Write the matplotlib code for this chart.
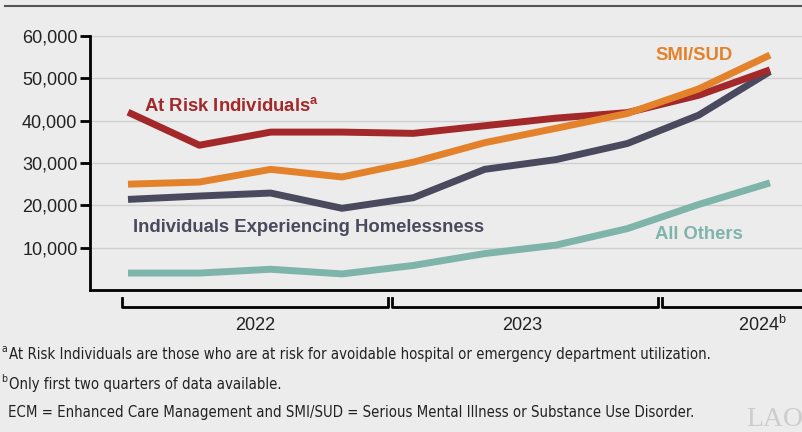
import numpy as np
import matplotlib
matplotlib.use("Agg")
import matplotlib.pyplot as plt
from matplotlib.lines import Line2D
from matplotlib.transforms import blended_transform_factory

# ------------------------------------------------------------
# Data (quarterly ECM enrollment)
# ------------------------------------------------------------
quarters = np.arange(10)  # 2022 Q1 ... 2024 Q2

at_risk = [42000, 34200, 37300, 37300, 37000, 38800, 40600, 41900, 46000, 52000]
smi_sud = [25000, 25500, 28500, 26700, 30200, 34800, 38200, 41700, 47500, 55500]
homeless = [21400, 22200, 22900, 19300, 21800, 28500, 30800, 34600, 41300, 51600]
all_others = [4000, 4000, 4900, 3800, 5800, 8600, 10600, 14500, 20200, 25300]

yticks = [10000, 20000, 30000, 40000, 50000, 60000]
years = ["2022", "2023", "2024"]
year_spans = [(-0.085, 3.645), (3.70, 7.43), (7.49, 9.60)]
year_centers = [1.78, 5.52, 8.90]

red = "#A3282A"
orange = "#E3822A"
navy = "#4A4A5F"
teal = "#7FB4AA"
bg = "#ECECEC"

plt.rcParams["font.family"] = ["Liberation Sans", "DejaVu Sans"]

fig = plt.figure(figsize=(8.02, 4.32), dpi=100, facecolor=bg)
W, H = 802, 432
ax = fig.add_axes([90 / W, (H - 290) / H, (W - 90) / W, (290 - 36) / H])
ax.set_facecolor(bg)

ax.set_xlim((90 - 128) / 71.33, (802 - 128) / 71.33)
ax.set_ylim(0, 60000)

for y in yticks:
    ax.axhline(y, color="#CFCFCF", lw=1.0, zorder=1)

ax.plot(quarters, all_others, color=teal, lw=5, zorder=3, solid_capstyle="butt")
ax.plot(quarters, homeless, color=navy, lw=5, zorder=3, solid_capstyle="butt")
ax.plot(quarters, at_risk, color=red, lw=5, zorder=4, solid_capstyle="butt")
ax.plot(quarters, smi_sud, color=orange, lw=5, zorder=5, solid_capstyle="butt")

# series labels
lab = dict(fontsize=13.3, fontweight="bold", va="center", ha="left")
ax.text(0.23, 43400, "At Risk Individuals$^{\\mathregular{a}}$", color=red, **lab)
ax.text(7.39, 55300, "SMI/SUD", color=orange, **lab)
ax.text(0.07, 14700, "Individuals Experiencing Homelessness", color=navy, **lab)
ax.text(7.39, 13200, "All Others", color=teal, **lab)

# axes styling
for side in ["top", "right"]:
    ax.spines[side].set_visible(False)
ax.spines["left"].set_linewidth(2)
ax.spines["bottom"].set_linewidth(2)
ax.set_yticks(yticks)
ax.set_yticklabels([f"{v:,}" for v in yticks], fontsize=13, color="#222222")
ax.tick_params(axis="y", length=7, width=2, pad=2)
ax.set_xticks([])

# year brackets below the axis
tr = blended_transform_factory(ax.transData, fig.transFigure)
y_lo = (H - 307) / H
y_hi = (H - 298) / H
for (x0, x1), xc, yr in zip(year_spans, year_centers, years):
    ax.add_line(Line2D([x0, x0, x1, x1], [y_hi, y_lo, y_lo, y_hi], transform=tr,
                       color="black", lw=2, clip_on=False))
    label = yr + ("$^{\\mathregular{b}}$" if yr == "2024" else "")
    ax.text(xc, (H - 325) / H, label, transform=tr, ha="center", va="center",
            fontsize=13, color="#222222")

# top rule
fig.add_artist(Line2D([5 / W, 1], [(H - 6) / H] * 2, color="#555555", lw=1.5))

# footnotes
note = dict(family="DejaVu Sans", fontstretch="condensed", color="#222222", va="center")
fig.text(1 / W, (H - 349) / H, "a", fontsize=7.5, **note)
fig.text(9 / W, (H - 355) / H,
         "At Risk Individuals are those who are at risk for avoidable hospital or emergency department utilization.",
         fontsize=10.7, **note)
fig.text(1 / W, (H - 379) / H, "b", fontsize=7.5, **note)
fig.text(9 / W, (H - 385) / H, "Only first two quarters of data available.",
         fontsize=10.7, **note)
fig.text(8 / W, (H - 412) / H,
         "ECM = Enhanced Care Management and SMI/SUD = Serious Mental Illness or Substance Use Disorder.",
         fontsize=10.7, **note)
fig.text(746 / W, (H - 407) / H, "LAO", fontsize=20, family=["Liberation Serif", "DejaVu Serif"],
         color="#CDCDCD", va="top")

fig.savefig("out.png", dpi=100, facecolor=bg)
